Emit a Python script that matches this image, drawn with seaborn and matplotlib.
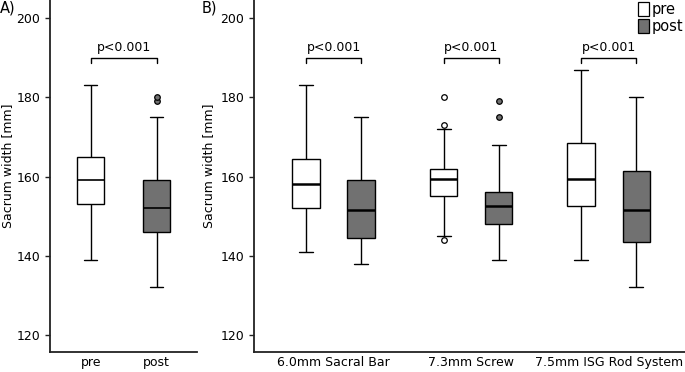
import numpy as np
import pandas as pd
import matplotlib
matplotlib.use("Agg")
import matplotlib.pyplot as plt
from matplotlib.patches import Patch
import seaborn as sns

# ---------------- data ----------------
times = ["pre", "post"]
groups = ["6.0mm Sacral Bar", "7.3mm Screw", "7.5mm ISG Rod System"]

# five-number summaries: [lower whisker, Q1, median, Q3, upper whisker]
all_pre = [139, 153, 159, 165, 183]
all_post = [132, 146, 152, 159, 175]
all_pre_out = []
all_post_out = [179, 180]

grp_pre = [[141, 152, 158, 164.5, 183],
           [145, 155, 159.5, 162, 172],
           [139, 152.5, 159.5, 168.5, 187]]
grp_post = [[138, 144.5, 151.5, 159, 175],
            [139, 148, 152.5, 156, 168],
            [132, 143.5, 151.5, 161.5, 180]]
grp_pre_out = [[], [144, 173, 180], []]
grp_post_out = [[], [175, 179], []]

p_all = "p<0.001"
p_groups = ["p<0.001", "p<0.001", "p<0.001"]
yticks = [120, 140, 160, 180, 200]
ylabel = "Sacrum width [mm]"

# ---------------- style ----------------
GRAY = "#717171"
pal = {"pre": "white", "post": GRAY}
FS = 9

sns.set_style("ticks")
plt.rcParams["font.family"] = ["DejaVu Sans"]
plt.rcParams["text.color"] = "black"
plt.rcParams["xtick.color"] = "black"
plt.rcParams["ytick.color"] = "black"
plt.rcParams["axes.labelcolor"] = "black"


def expand(summary, outliers, reps=20):
    """long-form values whose box statistics equal the summary"""
    return list(np.repeat(summary, reps)) + list(outliers)


rowsA = []
for t, s, o in zip(times, [all_pre, all_post], [all_pre_out, all_post_out]):
    for v in expand(s, o):
        rowsA.append({"time": t, "width": v})
dfA = pd.DataFrame(rowsA)

rowsB = []
for gi, g in enumerate(groups):
    for t, s, o in zip(times, [grp_pre[gi], grp_post[gi]], [grp_pre_out[gi], grp_post_out[gi]]):
        for v in expand(s, o):
            rowsB.append({"group": g, "time": t, "width": v})
dfB = pd.DataFrame(rowsB)

fig = plt.figure(figsize=(6.85, 3.72), dpi=100)
axA = fig.add_axes([0.0730, 0.0530, 0.2142, 0.947])
axB = fig.add_axes([0.3712, 0.0530, 0.6288, 0.947])

common = dict(palette=pal, saturation=1, linecolor="black", linewidth=1.0,
              fliersize=4, whis=1.5, legend=False,
              flierprops=dict(marker="o", markeredgecolor="black", markeredgewidth=0.9),
              whiskerprops=dict(color="black", linewidth=1.0),
              capprops=dict(color="black", linewidth=1.0),
              boxprops=dict(edgecolor="black", linewidth=1.0))

sns.boxplot(data=dfA, x="time", y="width", hue="time", order=times, hue_order=times,
            width=0.41, medianprops=dict(color="black", linewidth=1.2), ax=axA, **common)
sns.boxplot(data=dfB, x="group", y="width", hue="time", order=groups, hue_order=times,
            width=0.8, gap=0.5, medianprops=dict(color="black", linewidth=1.8), ax=axB, **common)

# fliers take the fill colour of their box
for ax in (axA, axB):
    for cont in ax.containers:
        if hasattr(cont, "fliers") and hasattr(cont, "boxes"):
            for box, fl in zip(cont.boxes, cont.fliers):
                fl.set_markerfacecolor(box.get_facecolor())

for ax in (axA, axB):
    ax.set_ylim(115.6, 204.6)
    ax.set_yticks(yticks)
    ax.set_xlabel("")
    ax.tick_params(axis="y", length=3.6, width=1.0, pad=3.5, labelsize=FS, color="#222222")
    ax.tick_params(axis="x", length=0, pad=2.5, labelsize=FS)
    for side in ("top", "right"):
        ax.spines[side].set_visible(False)
    for side in ("left", "bottom"):
        ax.spines[side].set_linewidth(1.3)
        ax.spines[side].set_color("#222222")

axA.set_xlim(-0.617, 1.606)
axB.set_xlim(-0.576, 2.554)

axA.set_ylabel(ylabel, fontsize=FS)
axB.set_ylabel(ylabel, fontsize=FS)
axA.yaxis.set_label_coords(-0.245, 0.53)
axB.yaxis.set_label_coords(-0.092, 0.53)

# significance brackets
Y_BAR, Y_LEG, Y_TXT = 190.0, 188.6, 190.9
x0, x1 = times.index("pre"), times.index("post")
axA.plot([x0, x0, x1, x1], [Y_LEG, Y_BAR, Y_BAR, Y_LEG], color="black", lw=1.0)
axA.text((x0 + x1) / 2, Y_TXT, p_all, ha="center", va="bottom", fontsize=FS)
for gi, lab in enumerate(p_groups):
    a, b = gi - 0.2, gi + 0.2
    axB.plot([a, a, b, b], [Y_LEG, Y_BAR, Y_BAR, Y_LEG], color="black", lw=1.0)
    axB.text(gi, Y_TXT, lab, ha="center", va="bottom", fontsize=FS)

# panel letters
fig.text(0.0, 0.998, "A)", ha="left", va="top", fontsize=10.5)
fig.text(0.295, 0.998, "B)", ha="left", va="top", fontsize=10.5)

# legend
handles = [Patch(facecolor=pal[t], edgecolor="black", linewidth=0.9, label=t) for t in times]
fig.legend(handles=handles, loc="upper right", bbox_to_anchor=(1.0, 1.0), frameon=False,
           fontsize=10.5, handlelength=0.75, handleheight=1.1, handletextpad=0.15,
           borderaxespad=0.0, borderpad=0.15, labelspacing=0.1)

fig.savefig("out.png", dpi=100)
